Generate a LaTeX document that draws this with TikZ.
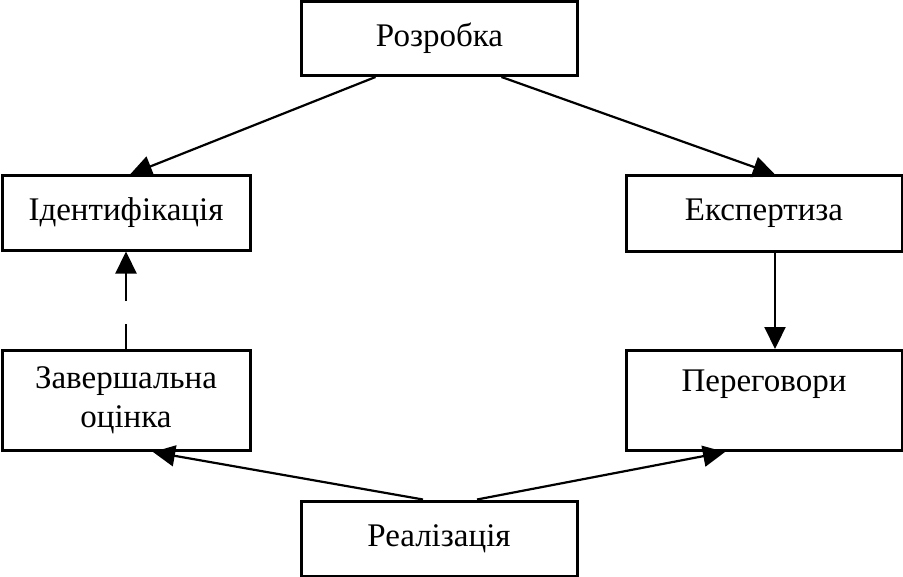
\documentclass[tikz,border=0pt]{standalone}
\usepackage{fontspec}
\setmainfont{Liberation Serif}
\usepackage{tikz}
\usetikzlibrary{arrows.meta}

\begin{document}
\begin{tikzpicture}[x=0.5pt, y=-0.5pt,
  stage/.style={draw=black, line width=1.5pt, minimum width=138pt, minimum height=37pt, align=center, inner sep=0pt, font=\fontsize{16.5}{19.5}\selectfont},
  link/.style={line width=1.1pt, -{Triangle[length=11pt,width=10.5pt]}}]
\useasboundingbox (0,0) rectangle (903,577);

\node[stage] (rozrobka) at (439.5,38.5) {Розробка};
\node[stage, minimum width=124pt] (ident) at (126,213) {Ідентифікація};
\node[stage, minimum width=124pt, minimum height=50pt] (zaversh) at (126,400.5) {Завершальна\\оцінка};
\node[stage, minimum height=37.5pt] (ekspert) at (764,213.5) {Експертиза};
\node[stage, minimum height=50pt] (perehov) at (764,400.5) {Переговори\\\mbox{}};
\node[stage, minimum height=37.5pt] (realiz) at (439,538.5) {Реалізація};

\draw[link] ([xshift=-32pt]rozrobka.south) -- ([xshift=2pt]ident.north);
\draw[link] ([xshift=31pt]rozrobka.south) -- ([xshift=5.5pt]ekspert.north);
\draw[link] ([xshift=5.5pt]ekspert.south) -- ([xshift=5.5pt]perehov.north);
\draw[link, dash pattern=on 12.5pt off 11.5pt on 100pt] (zaversh.north) -- (ident.south);
\draw[link] ([xshift=-8pt]realiz.north) -- ([xshift=13.5pt]zaversh.south);
\draw[link] ([xshift=19pt]realiz.north) -- ([xshift=-19.5pt]perehov.south);
\end{tikzpicture}
\end{document}
